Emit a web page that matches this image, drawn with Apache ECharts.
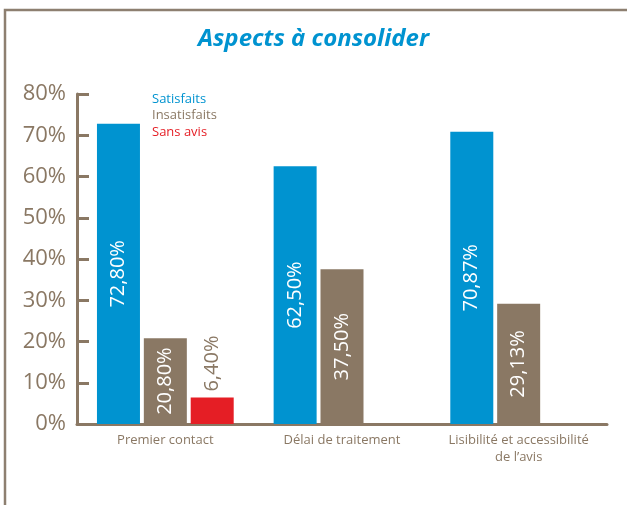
<!DOCTYPE html>
<html>
<head>
<meta charset="utf-8">
<script src="https://cdn.jsdelivr.net/npm/echarts@6/dist/echarts.min.js"></script>
<style>
  html, body { margin: 0; padding: 0; background: #fff; }
  #chart { width: 627px; height: 505px; }
</style>
</head>
<body>
<div id="chart"></div>
<script>
// données
const categories = ['Premier contact', 'Délai de traitement', 'Lisibilité et accessibilité\nde l’avis'];
const satisfaits = [72.80, 62.50, 70.87];
const insatisfaits = [20.80, 37.50, 29.13];
const sansAvis = [6.40, null, null];
const yTicks = [0, 10, 20, 30, 40, 50, 60, 70, 80];

const brown = '#8a7864';
const blue = '#0093d0';
const red = '#e51e25';
const font = 'Open Sans';

const fmt = p => p.value.toFixed(2).replace('.', ',') + '%';

const myChart = echarts.init(document.getElementById('chart'));
const option = {
  textStyle: { fontFamily: font },
  title: {
    text: 'Aspects à consolider',
    left: 'center',
    top: 22,
    textStyle: { color: blue, fontSize: 24, fontWeight: 'bold', fontStyle: 'italic', fontFamily: font }
  },
  graphic: [{
    type: 'rect',
    shape: { x: 5, y: 10, width: 700, height: 600 },
    style: { fill: null, stroke: '#8d7f70', lineWidth: 2.5 }
  }],
  legend: {
    orient: 'vertical',
    left: 142,
    top: 87,
    icon: 'none',
    itemWidth: 0,
    itemHeight: 14,
    itemGap: 3,
    selectedMode: false,
    textStyle: { fontSize: 13, fontFamily: font },
    data: [
      { name: 'Satisfaits', textStyle: { color: blue } },
      { name: 'Insatisfaits', textStyle: { color: brown } },
      { name: 'Sans avis', textStyle: { color: red } }
    ]
  },
  grid: { left: 77, right: 20, top: 94, bottom: 81, containLabel: false },
  xAxis: {
    type: 'category',
    data: categories,
    axisLine: { lineStyle: { color: brown, width: 3 } },
    axisTick: { inside: true, length: 8, lineStyle: { color: brown, width: 3 } },
    axisLabel: { interval: 0, color: brown, fontSize: 13, margin: 8, lineHeight: 17, fontFamily: font }
  },
  yAxis: {
    type: 'value',
    min: yTicks[0],
    max: yTicks[yTicks.length - 1],
    interval: 10,
    splitLine: { show: false },
    axisLine: { show: true, lineStyle: { color: brown, width: 3 } },
    axisTick: { show: true, inside: true, length: 12, lineStyle: { color: brown, width: 3 } },
    axisLabel: { color: brown, fontSize: 22, margin: 11, formatter: '{value}%', fontFamily: font }
  },
  series: [
    {
      name: 'Satisfaits',
      type: 'bar',
      data: satisfaits,
      barWidth: 43,
      barGap: '9%',
      itemStyle: { color: blue },
      label: { show: true, position: 'inside', rotate: 90, color: '#fff', fontSize: 20, formatter: fmt }
    },
    {
      name: 'Insatisfaits',
      type: 'bar',
      data: insatisfaits,
      barWidth: 43,
      barGap: '9%',
      itemStyle: { color: brown },
      label: { show: true, position: 'inside', rotate: 90, color: '#fff', fontSize: 20, formatter: fmt }
    },
    {
      name: 'Sans avis',
      type: 'bar',
      data: sansAvis,
      barWidth: 43,
      barGap: '9%',
      itemStyle: { color: red },
      label: { show: true, position: 'top', rotate: 90, align: 'left', verticalAlign: 'middle', distance: 6, color: brown, fontSize: 20, formatter: fmt }
    }
  ]
};
myChart.setOption(option);
</script>
</body>
</html>
